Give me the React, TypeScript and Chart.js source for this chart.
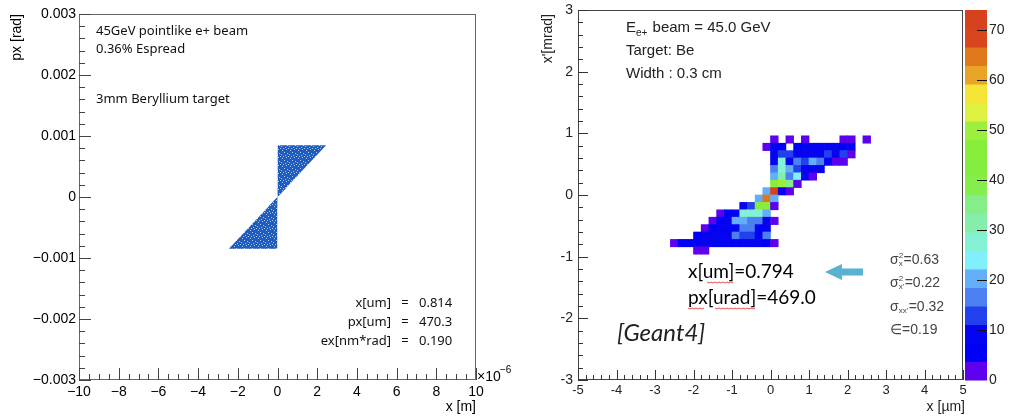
import React, { useEffect, useRef } from 'react';
import { Chart, registerables } from 'chart.js';

Chart.register(...registerables);

const HELV = '"Liberation Sans", Arial, sans-serif';
const GEO = '"Noto Sans", sans-serif';
const CAL = 'Lato, "Open Sans", sans-serif';

// ---------------- Left panel (phase space, x in 1e-6 m, px in rad) ----------------
const LEFT_X_TICKS = [-10, -8, -6, -4, -2, 0, 2, 4, 6, 8, 10];
const LEFT_X_TICK_LABELS = ['\u221210', '\u22128', '\u22126', '\u22124', '\u22122', '0', '2', '4', '6', '8', '10'];
const LEFT_Y_TICKS = [-0.003, -0.002, -0.001, 0, 0.001, 0.002, 0.003];
const LEFT_Y_TICK_LABELS = ['\u22120.003', '\u22120.002', '\u22120.001', '0', '0.001', '0.002', '0.003'];

// outline of the particle cloud (corners)
const UPPER_X = [0, 2.45];
const UPPER_DIAG_Y = [0, 0.00085];
const UPPER_TOP_Y = [0.00085, 0.00085];
const LOWER_X = [-2.45, 0];
const LOWER_DIAG_Y = [-0.00085, 0];
const LOWER_BOT_Y = [-0.00085, -0.00085];
// dense core at the waist
const CORE_UP_X = [0, 0.45];
const CORE_UP_DIAG_Y = [0, 0.00015];
const CORE_UP_TOP_Y = [0.00015, 0.00015];
const CORE_LOW_X = [-0.45, 0];
const CORE_LOW_DIAG_Y = [-0.00015, 0];
const CORE_LOW_BOT_Y = [-0.00015, -0.00015];

const LEFT_NOTES = ['45GeV pointlike e+ beam', '0.36% Espread', '3mm Beryllium target'];
const LEFT_STAT_NAMES = ['x[um]', 'px[um]', 'ex[nm*rad]'];
const LEFT_STAT_VALUES = ['0.814', '470.3', '0.190'];

// ---------------- Right panel (Geant4 2D histogram) ----------------
const RIGHT_X_TICKS = [-5, -4, -3, -2, -1, 0, 1, 2, 3, 4, 5];
const RIGHT_X_TICK_LABELS = ['-5', '-4', '-3', '-2', '-1', '0', '1', '2', '3', '4', '5'];
const RIGHT_Y_TICKS = [-3, -2, -1, 0, 1, 2, 3];
const RIGHT_Y_TICK_LABELS = ['-3', '-2', '-1', '0', '1', '2', '3'];

const H2_X_BIN = 0.2; // µm
const H2_Y_BIN = 0.12; // mrad
const ROW_Y_LOW = [0.84, 0.72, 0.6, 0.48, 0.36, 0.24, 0.12, 0, -0.12, -0.24, -0.36, -0.48, -0.6, -0.72, -0.84, -0.96];
const ROW_FIRST_BIN = [0, -1, 0, 0, 0, 0, 0, -1, -2, -4, -7, -8, -9, -10, -13, -10];
const ROW_COUNTS = [
  [3, 0, 3, 0, 3, 0, 0, 0, 0, 3, 3, 0, 3],
  [3, 8, 7, 0, 7, 8, 9, 9, 8, 8, 7, 8],
  [9, 13, 13, 8, 8, 8, 8, 13, 8, 13, 3],
  [8, 26, 8, 16, 13, 21, 16, 8, 3, 3],
  [16, 28, 20, 13, 9, 10, 8],
  [20, 31, 17, 24, 8, 3],
  [45, 50, 34, 3],
  [20, 74, 8, 3],
  [20, 64, 21],
  [8, 13, 42, 46, 3],
  [3, 7, 8, 26, 28, 28, 21],
  [3, 7, 8, 20, 20, 16, 16, 8, 3],
  [3, 7, 8, 9, 8, 16, 17, 9, 8],
  [6, 8, 9, 9, 8, 16, 13, 13, 8, 16],
  [3, 5, 6, 7, 8, 9, 9, 10, 9, 8, 9, 8, 7, 3],
  [3, 3],
];
const Z_MAX = 74;
const Z_TICKS = [0, 10, 20, 30, 40, 50, 60, 70];
const Z_PALETTE = [
  '#5c00ee', '#0000f4', '#0404f0', '#2240ee', '#4a80f2', '#62aef8', '#80f0fc', '#84f2d2',
  '#84eeaa', '#86ee88', '#84ee4c', '#84ee40', '#88ee3c', '#9cef3c', '#def040', '#f6e436',
  '#e8a424', '#e0781c', '#d9461e', '#d6421e',
];
const RIGHT_NOTES = ['Target: Be', 'Width : 0.3 cm'];
const RIGHT_RESULTS = ['x[um]=0.794', 'px[urad]=469.0'];
const SIGMA_VALUES = ['=0.63', '=0.22', '=0.32', '=0.19'];

function zColor(v: number) {
  const i = Math.min(Z_PALETTE.length - 1, Math.floor(v / (Z_MAX / Z_PALETTE.length)));
  return Z_PALETTE[Math.max(0, i)];
}

function buildCells() {
  const cells: any[] = [];
  ROW_Y_LOW.forEach((yl, r) => {
    ROW_COUNTS[r].forEach((c, j) => {
      if (!c) return;
      const k = ROW_FIRST_BIN[r] + j;
      cells.push({ x: k * H2_X_BIN + H2_X_BIN / 2, y: [yl, yl + H2_Y_BIN], v: c });
    });
  });
  return cells;
}

const seg = (xs: number[], ys: number[]) => xs.map((x, i) => ({ x, y: ys[i] }));

// speckled fill texture imitating the dense scatter of markers
function speckle(base: string, light: string): any {
  const c = document.createElement('canvas');
  c.width = 8;
  c.height = 8;
  const g = c.getContext('2d');
  if (!g) return base;
  g.fillStyle = base;
  g.fillRect(0, 0, 8, 8);
  g.fillStyle = light;
  [[1, 2], [4, 0], [6, 5], [2, 6], [5, 3], [0, 4], [7, 1], [3, 4]].forEach(([px, py]) => g.fillRect(px, py, 1, 1));
  return g.createPattern(c, 'repeat') || base;
}

function framePlugin(id: string, o: any) {
  return {
    id,
    afterDatasetsDraw(chart: any) {
      const { ctx, chartArea: a } = chart;
      const xs = chart.scales.x;
      const ys = chart.scales.y;
      ctx.save();
      ctx.lineWidth = 1;
      ctx.strokeStyle = o.frame;
      ctx.strokeRect(Math.round(a.left) + 0.5, Math.round(a.top) + 0.5, Math.round(a.right - a.left) - 1, Math.round(a.bottom - a.top) - 1);
      ctx.strokeStyle = o.tick;
      ctx.beginPath();
      const nx = Math.round((xs.max - xs.min) / o.xMinor);
      for (let i = 0; i <= nx; i++) {
        const px = Math.round(xs.getPixelForValue(xs.min + i * o.xMinor)) + 0.5;
        const len = i % o.xPer === 0 ? o.major : o.minor;
        ctx.moveTo(px, a.bottom);
        ctx.lineTo(px, a.bottom - len);
      }
      const ny = Math.round((ys.max - ys.min) / o.yMinor);
      for (let i = 0; i <= ny; i++) {
        const py = Math.round(ys.getPixelForValue(ys.min + i * o.yMinor)) + 0.5;
        const len = i % o.yPer === 0 ? o.major : o.minor;
        ctx.moveTo(a.left, py);
        ctx.lineTo(a.left + len, py);
      }
      ctx.stroke();
      ctx.restore();
    },
  };
}

const leftTextPlugin = {
  id: 'leftText',
  afterDraw(chart: any) {
    const { ctx } = chart;
    ctx.save();
    ctx.fillStyle = '#111';
    ctx.textBaseline = 'middle';
    ctx.font = `13px ${GEO}`;
    ctx.textAlign = 'left';
    const noteY = [31, 49, 99];
    LEFT_NOTES.forEach((t, i) => ctx.fillText(t, 96, noteY[i]));
    const statY = [303, 322, 341];
    LEFT_STAT_NAMES.forEach((t, i) => {
      ctx.textAlign = 'right';
      ctx.fillText(t, 391, statY[i]);
      ctx.textAlign = 'center';
      ctx.fillText('=', 405, statY[i]);
      ctx.textAlign = 'left';
      ctx.fillText(LEFT_STAT_VALUES[i], 419, statY[i]);
    });
    // axis titles
    ctx.fillStyle = '#000';
    ctx.font = `14px ${HELV}`;
    ctx.textAlign = 'right';
    ctx.fillText('x [m]', 476, 407);
    ctx.textAlign = 'left';
    ctx.fillText('\u00d710', 477, 377);
    ctx.font = `10px ${HELV}`;
    ctx.fillText('\u22126', 500, 370);
    ctx.save();
    ctx.font = `14px ${HELV}`;
    ctx.translate(17, 14);
    ctx.rotate(-Math.PI / 2);
    ctx.textAlign = 'right';
    ctx.fillText('px [rad]', 0, 0);
    ctx.restore();
    ctx.restore();
  },
};

const rightExtrasPlugin = {
  id: 'rightExtras',
  afterDraw(chart: any) {
    const { ctx, chartArea: a } = chart;
    const z = chart.scales.z;
    ctx.save();
    // colour bar
    const bx = a.right + 2;
    const bw = 22;
    const step = Z_MAX / Z_PALETTE.length;
    Z_PALETTE.forEach((c, i) => {
      const y0 = z.getPixelForValue(i * step);
      const y1 = z.getPixelForValue((i + 1) * step);
      ctx.fillStyle = c;
      ctx.fillRect(bx, y1, bw, y0 - y1 + 0.5);
    });
    ctx.strokeStyle = '#111';
    ctx.lineWidth = 1;
    ctx.beginPath();
    Z_TICKS.forEach((v) => {
      if (v === 0) return;
      const py = Math.round(z.getPixelForValue(v)) + 0.5;
      ctx.moveTo(bx + bw, py);
      ctx.lineTo(bx + bw - 10, py);
    });
    ctx.stroke();

    ctx.fillStyle = '#222';
    ctx.textBaseline = 'middle';
    ctx.textAlign = 'left';
    // header notes
    ctx.font = `15px ${HELV}`;
    let x = 106;
    ctx.fillText('E', x, 28);
    x += ctx.measureText('E').width;
    ctx.font = `10px ${HELV}`;
    ctx.fillText('e+', x, 33);
    x += ctx.measureText('e+').width + 1;
    ctx.font = `15px ${HELV}`;
    ctx.fillText(' beam = 45.0 GeV', x, 28);
    ctx.fillText(RIGHT_NOTES[0], 106, 51);
    ctx.fillText(RIGHT_NOTES[1], 106, 74);

    // results
    ctx.fillStyle = '#000';
    ctx.font = `19px ${CAL}`;
    ctx.fillText(RIGHT_RESULTS[0], 168, 272);
    ctx.fillText(RIGHT_RESULTS[1], 168, 298);
    // spell-check squiggles
    ctx.strokeStyle = '#e05050';
    ctx.lineWidth = 1;
    const squiggle = (x0: number, x1: number, y: number) => {
      ctx.beginPath();
      for (let xx = x0, k = 0; xx <= x1; xx += 2, k++) {
        const yy = y + (k % 2 ? 1 : 0);
        if (k === 0) ctx.moveTo(xx, yy); else ctx.lineTo(xx, yy);
      }
      ctx.stroke();
    };
    squiggle(187, 213, 282);
    squiggle(168, 184, 308);
    squiggle(195, 236, 308);

    ctx.font = `italic 24px ${CAL}`;
    ctx.fillStyle = '#222';
    ctx.fillText('[Geant4]', 97, 333);

    // arrow
    ctx.fillStyle = '#58b2d2';
    ctx.beginPath();
    ctx.moveTo(305, 272);
    ctx.lineTo(322, 264);
    ctx.lineTo(322, 268.5);
    ctx.lineTo(343, 268.5);
    ctx.lineTo(343, 275.5);
    ctx.lineTo(322, 275.5);
    ctx.lineTo(322, 280);
    ctx.closePath();
    ctx.fill();

    // sigma block
    ctx.fillStyle = '#444';
    const sx = 370;
    const sy = [260, 283, 307, 330];
    const subs = ['x', "x'", "xx'"];
    for (let i = 0; i < 3; i++) {
      ctx.font = `14px ${HELV}`;
      ctx.fillText('\u03c3', sx, sy[i]);
      let xx = sx + ctx.measureText('\u03c3').width;
      ctx.font = `8px ${HELV}`;
      if (i < 2) ctx.fillText('2', xx, sy[i] - 4);
      ctx.fillText(subs[i], xx, sy[i] + 4);
      xx += Math.max(ctx.measureText(subs[i]).width, i < 2 ? ctx.measureText('2').width : 0) + 0.5;
      ctx.font = `14px ${HELV}`;
      ctx.fillText(SIGMA_VALUES[i], xx, sy[i]);
    }
    ctx.font = `14px ${HELV}`;
    ctx.fillText('\u2208' + SIGMA_VALUES[3], sx, sy[3]);

    // axis titles
    ctx.fillStyle = '#222';
    ctx.font = `14px ${HELV}`;
    ctx.textAlign = 'right';
    ctx.fillText('x [\u00b5m]', 445, 407);
    ctx.save();
    ctx.translate(28, 14);
    ctx.rotate(-Math.PI / 2);
    ctx.fillText("x'[mrad]", 0, 0);
    ctx.restore();
    ctx.restore();
  },
};

const noGrid = { display: false, drawTicks: false, tickLength: 0 };
// vertical axes: label offset done through (invisible) tick length so that no extra top padding is added
const vGrid = (gap: number) => ({ display: false, drawTicks: true, tickLength: gap });

function leftConfig(): any {
  const CLOUD = speckle('#1f5cbf', 'rgba(190,210,240,0.9)');
  const CORE = '#2f9ac6';
  const common = { showLine: true, pointRadius: 0, borderWidth: 0, borderColor: 'rgba(0,0,0,0)', tension: 0 };
  return {
    type: 'line',
    data: {
      datasets: [
        { ...common, data: seg(UPPER_X, UPPER_DIAG_Y), fill: false },
        { ...common, data: seg(UPPER_X, UPPER_TOP_Y), fill: '-1', backgroundColor: CLOUD },
        { ...common, data: seg(LOWER_X, LOWER_DIAG_Y), fill: false },
        { ...common, data: seg(LOWER_X, LOWER_BOT_Y), fill: '-1', backgroundColor: CLOUD },
        { ...common, data: seg(CORE_UP_X, CORE_UP_DIAG_Y), fill: false },
        { ...common, data: seg(CORE_UP_X, CORE_UP_TOP_Y), fill: '-1', backgroundColor: CORE },
        { ...common, data: seg(CORE_LOW_X, CORE_LOW_DIAG_Y), fill: false },
        { ...common, data: seg(CORE_LOW_X, CORE_LOW_BOT_Y), fill: '-1', backgroundColor: CORE },
      ],
    },
    options: {
      animation: false,
      responsive: false,
      maintainAspectRatio: false,
      layout: { padding: { top: 14, right: 44, left: 0, bottom: 0 } },
      plugins: { legend: { display: false }, tooltip: { enabled: false } },
      scales: {
        x: {
          type: 'linear', min: -10, max: 10, offset: false,
          grid: noGrid, border: { display: false },
          afterFit: (s: any) => { s.height = 36; },
          afterBuildTicks: (s: any) => { s.ticks = LEFT_X_TICKS.map((v) => ({ value: v })); },
          ticks: { autoSkip: false, maxRotation: 0, padding: 4, color: '#000', font: { family: HELV, size: 14 }, callback: (_v: any, i: number) => LEFT_X_TICK_LABELS[i] },
        },
        y: {
          type: 'linear', min: -0.003, max: 0.003,
          grid: vGrid(3), border: { display: false },
          afterFit: (s: any) => { s.width = 79; },
          afterBuildTicks: (s: any) => { s.ticks = LEFT_Y_TICKS.map((v) => ({ value: v })); },
          ticks: { autoSkip: false, padding: 0, color: '#000', font: { family: HELV, size: 14 }, callback: (_v: any, i: number) => LEFT_Y_TICK_LABELS[i] },
        },
      },
    },
    plugins: [framePlugin('leftFrame', { frame: '#666', tick: '#444', xMinor: 0.5, xPer: 4, yMinor: 0.0002, yPer: 5, major: 12, minor: 6 }), leftTextPlugin],
  };
}

function rightConfig(): any {
  return {
    type: 'bar',
    data: {
      datasets: [
        {
          data: buildCells(),
          backgroundColor: (c: any) => zColor(c.raw ? c.raw.v : 0),
          borderWidth: 0,
          barPercentage: 1,
          categoryPercentage: 1,
          xAxisID: 'x',
          yAxisID: 'y',
        },
      ],
    },
    options: {
      animation: false,
      responsive: false,
      maintainAspectRatio: false,
      layout: { padding: { top: 10, right: 0, left: 0, bottom: 0 } },
      plugins: { legend: { display: false }, tooltip: { enabled: false } },
      scales: {
        x: {
          type: 'linear', min: -5, max: 5, offset: false, position: 'bottom',
          grid: { ...noGrid, offset: false }, border: { display: false },
          afterFit: (s: any) => { s.height = 36; },
          afterBuildTicks: (s: any) => { s.ticks = RIGHT_X_TICKS.map((v) => ({ value: v })); },
          ticks: { autoSkip: false, maxRotation: 0, padding: 3, color: '#222', font: { family: HELV, size: 13 }, callback: (_v: any, i: number) => RIGHT_X_TICK_LABELS[i] },
        },
        y: {
          type: 'linear', min: -3, max: 3, position: 'left',
          grid: vGrid(5), border: { display: false },
          afterFit: (s: any) => { s.width = 58; },
          afterBuildTicks: (s: any) => { s.ticks = RIGHT_Y_TICKS.map((v) => ({ value: v })); },
          ticks: { autoSkip: false, padding: 0, color: '#222', font: { family: HELV, size: 14 }, callback: (_v: any, i: number) => RIGHT_Y_TICK_LABELS[i] },
        },
        z: {
          type: 'linear', min: 0, max: Z_MAX, position: 'right',
          grid: vGrid(26), border: { display: false },
          afterFit: (s: any) => { s.width = 49; },
          afterBuildTicks: (s: any) => { s.ticks = Z_TICKS.map((v) => ({ value: v })); },
          ticks: { autoSkip: false, padding: 0, color: '#222', font: { family: HELV, size: 14 }, callback: (v: any) => String(v) },
        },
      },
    },
    plugins: [framePlugin('rightFrame', { frame: '#444', tick: '#333', xMinor: 0.2, xPer: 5, yMinor: 0.2, yPer: 5, major: 10, minor: 5 }), rightExtrasPlugin],
  };
}

export default function App() {
  const leftRef = useRef<HTMLCanvasElement>(null);
  const rightRef = useRef<HTMLCanvasElement>(null);
  useEffect(() => {
    const l = new Chart(leftRef.current as HTMLCanvasElement, leftConfig());
    const r = new Chart(rightRef.current as HTMLCanvasElement, rightConfig());
    return () => {
      l.destroy();
      r.destroy();
    };
  }, []);
  return (
    <div style={{ position: 'absolute', left: 0, top: 0, width: 1012, height: 416, background: '#fff', overflow: 'hidden' }}>
      <canvas ref={leftRef} width={520} height={416} style={{ position: 'absolute', left: 0, top: 0, width: 520, height: 416 }} />
      <canvas ref={rightRef} width={492} height={416} style={{ position: 'absolute', left: 520, top: 0, width: 492, height: 416 }} />
    </div>
  );
}
